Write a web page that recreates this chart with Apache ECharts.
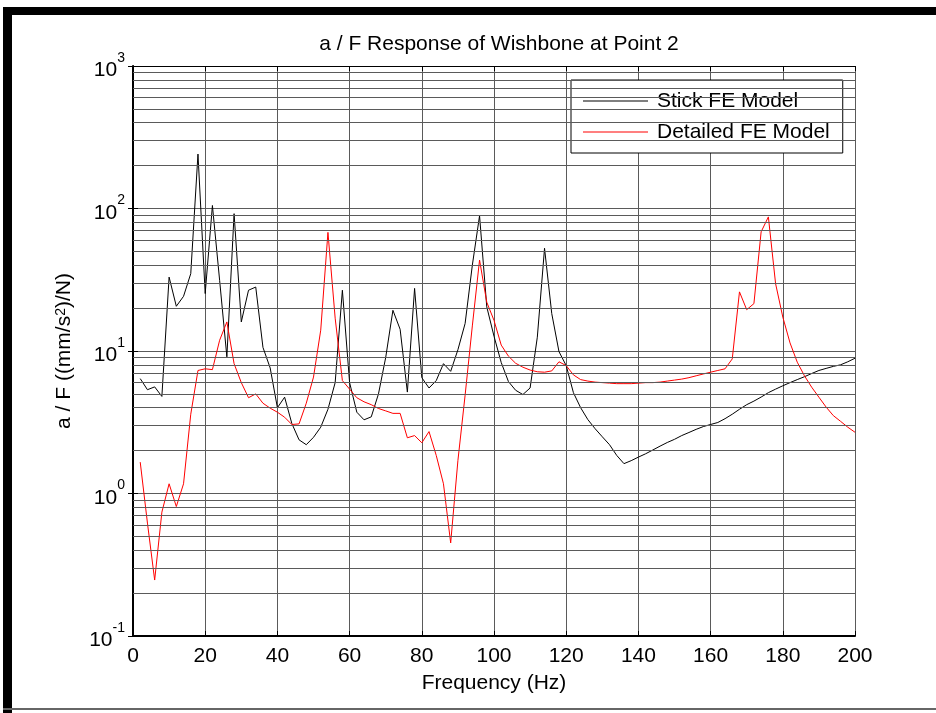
<!DOCTYPE html>
<html>
<head>
<meta charset="utf-8">
<title>a / F Response of Wishbone at Point 2</title>
<script src="https://cdn.jsdelivr.net/npm/echarts@6/dist/echarts.min.js"></script>
<style>
    html, body { margin: 0; padding: 0; background: #fff; }
    #chart { width: 936px; height: 713px; }
</style>
</head>
<body>
<div id="chart"></div>
<script>
// frequency samples (Hz)
var freqHz = [2, 4, 6, 8, 10, 12, 14, 16, 18, 20, 22, 24, 26, 28, 30, 32, 34, 36, 38, 40,
    42, 44, 46, 48, 50, 52, 54, 56, 58, 60, 62, 64, 66, 68, 70, 72, 74, 76, 78, 80,
    82, 84, 86, 88, 90, 92, 94, 96, 98, 100, 102, 104, 106, 108, 110, 112, 114, 116, 118, 120,
    122, 124, 126, 128, 130, 132, 134, 136, 138, 140, 142, 144, 146, 148, 150, 152, 154, 156, 158, 160,
    162, 164, 166, 168, 170, 172, 174, 176, 178, 180, 182, 184, 186, 188, 190, 192, 194, 196, 198, 200];

// Stick FE Model, a/F ((mm/s^2)/N)
var stickModel = [6.4, 5.35, 5.6, 4.8, 33, 20.6, 24.2, 34.9, 241, 25.3,
    105, 31.3, 9.1, 92, 16, 26.7, 28.1, 10.6, 7.6, 4.0,
    4.74, 3.1, 2.38, 2.2, 2.48, 2.92, 3.9, 6.0, 26.7, 6.0,
    3.72, 3.29, 3.45, 5.0, 9.0, 19.3, 14.2, 5.15, 27.5, 6.5,
    5.5, 6.2, 8.15, 7.2, 10.2, 15.6, 40, 89, 20.4, 12.7,
    8.3, 6.1, 5.3, 4.95, 5.5, 12.5, 52.6, 18.3, 9.9, 7.9,
    5.1, 4.0, 3.3, 2.85, 2.5, 2.2, 1.85, 1.62, 1.7, 1.8,
    1.9, 2.02, 2.15, 2.28, 2.4, 2.55, 2.68, 2.82, 2.95, 3.05,
    3.15, 3.35, 3.6, 3.9, 4.2, 4.45, 4.75, 5.1, 5.4, 5.7,
    6.0, 6.3, 6.6, 6.95, 7.3, 7.55, 7.8, 8.0, 8.4, 8.9];

// Detailed FE Model
var detailedModel = [1.66, 0.62, 0.247, 0.74, 1.17, 0.81, 1.17, 3.6, 7.3, 7.5,
    7.4, 11.9, 16, 8.15, 6.0, 4.7, 5.0, 4.3, 3.97, 3.72,
    3.43, 3.05, 3.08, 4.3, 6.56, 14, 68, 17, 6.2, 5.4,
    4.7, 4.4, 4.2, 3.95, 3.8, 3.65, 3.65, 2.46, 2.55, 2.27,
    2.72, 1.85, 1.17, 0.45, 1.7, 4.9, 15, 43.5, 22, 16.4,
    11, 9.2, 8.2, 7.7, 7.35, 7.15, 7.1, 7.25, 8.4, 7.9,
    6.8, 6.3, 6.15, 6.05, 6.0, 5.95, 5.9, 5.9, 5.9, 5.95,
    6.0, 6.0, 6.05, 6.15, 6.25, 6.35, 6.5, 6.7, 6.9, 7.1,
    7.3, 7.5, 8.8, 26, 19.5, 21.5, 68.6, 87.3, 29.7, 17.3,
    11.4, 8.35, 6.7, 5.57, 4.74, 4.04, 3.52, 3.21, 2.92, 2.69];

var seriesNames = ['Stick FE Model', 'Detailed FE Model'];

// minor log grid lines 2..9 x 10^n
var minorGrid = [];
[0.1, 1, 10, 100].forEach(function (dec) {
    for (var m = 2; m <= 9; m++) {
        minorGrid.push(+(m * dec).toPrecision(3));
    }
});

function pairs(vals) {
    return freqHz.map(function (f, i) { return [f, vals[i]]; });
}

var font = 'Arial, "Liberation Sans", sans-serif';
var gridColor = '#5a5a5a';

var chart = echarts.init(document.getElementById('chart'));

var option = {
    animation: false,
    backgroundColor: '#fff',
    title: {
        text: 'a / F Response of Wishbone at Point 2',
        left: 494,
        textAlign: 'center',
        top: 29,
        textStyle: { fontFamily: font, fontSize: 21, fontWeight: 'normal', color: '#000' }
    },
    legend: {
        data: seriesNames,
        orient: 'vertical',
        left: 571,
        top: 80,
        padding: [10, 13, 10, 12],
        icon: 'rect',
        itemWidth: 65,
        itemHeight: 1,
        itemGap: 9,
        borderColor: '#000',
        borderWidth: 1,
        borderRadius: 0,
        backgroundColor: '#fff',
        textStyle: { fontFamily: font, fontSize: 21, color: '#000', lineHeight: 22, padding: [0, 0, 0, 4] }
    },
    grid: { left: 133, right: 81, top: 66, bottom: 77 },
    xAxis: [{
        type: 'value',
        position: 'bottom',
        min: 0,
        max: 200,
        interval: 20,
        name: 'Frequency (Hz)',
        nameLocation: 'middle',
        nameGap: 37,
        nameTextStyle: { fontFamily: font, fontSize: 21, color: '#000' },
        axisLine: { lineStyle: { color: '#000', width: 2 } },
        axisTick: { inside: true, length: 5, lineStyle: { color: '#000' } },
        axisLabel: { fontFamily: font, fontSize: 21, color: '#000', margin: 10 },
        splitLine: { show: true, lineStyle: { color: gridColor, width: 1 } }
    }, {
        type: 'value',
        position: 'top',
        min: 0,
        max: 200,
        interval: 20,
        axisLine: { lineStyle: { color: '#000', width: 1 } },
        axisTick: { inside: true, length: 5, lineStyle: { color: '#000' } },
        axisLabel: { show: false },
        splitLine: { show: false }
    }],
    yAxis: [{
        type: 'log',
        logBase: 10,
        min: 0.1,
        max: 1000,
        position: 'left',
        name: 'a / F ((mm/s{sup|2})/N)',
        nameLocation: 'middle',
        nameGap: 58,
        nameTextStyle: {
            fontFamily: font, fontSize: 21, color: '#000',
            rich: { sup: { fontFamily: font, fontSize: 14, color: '#000', verticalAlign: 'top', lineHeight: 12 } }
        },
        axisLine: { show: true, lineStyle: { color: '#000', width: 2 } },
        axisTick: { inside: true, length: 5, lineStyle: { color: '#000' } },
        axisLabel: {
            margin: 8,
            formatter: function (v) {
                var e = Math.round(Math.log10(v));
                return '{b|10}{s|' + e + '}';
            },
            rich: {
                b: { fontFamily: font, fontSize: 21, color: '#000', lineHeight: 30, verticalAlign: 'bottom' },
                s: { fontFamily: font, fontSize: 14, color: '#000', verticalAlign: 'top', lineHeight: 12 }
            }
        },
        splitLine: { show: true, lineStyle: { color: gridColor, width: 1 } }
    }, {
        type: 'log',
        logBase: 10,
        min: 0.1,
        max: 1000,
        position: 'right',
        axisLine: { show: true, lineStyle: { color: '#000', width: 1 } },
        axisTick: { inside: true, length: 5, lineStyle: { color: '#000' } },
        axisLabel: { show: false },
        splitLine: { show: false }
    }],
    series: [{
        // only carries the minor grid lines
        name: 'minor',
        type: 'line',
        z: 1,
        silent: true,
        symbol: 'none',
        lineStyle: { opacity: 0 },
        data: [[0, 1]],
        markLine: {
            silent: true,
            symbol: ['none', 'none'],
            label: { show: false },
            lineStyle: { color: gridColor, type: 'solid', width: 1 },
            data: minorGrid.map(function (v) { return { yAxis: v }; })
        }
    }, {
        name: seriesNames[0],
        type: 'line',
        z: 3,
        symbol: 'none',
        lineStyle: { color: '#000', width: 1 },
        itemStyle: { color: '#000' },
        data: pairs(stickModel)
    }, {
        name: seriesNames[1],
        type: 'line',
        z: 4,
        symbol: 'none',
        lineStyle: { color: '#ff0000', width: 1 },
        itemStyle: { color: '#ff0000' },
        data: pairs(detailedModel)
    }],
    graphic: [
        // figure frame
        { type: 'rect', shape: { x: 3, y: 7, width: 9, height: 706 }, style: { fill: '#000' } },
        { type: 'rect', shape: { x: 3, y: 7, width: 933, height: 8 }, style: { fill: '#000' } },
        { type: 'rect', shape: { x: 3, y: 708, width: 933, height: 2 }, style: { fill: '#666' } }
    ]
};

chart.setOption(option);
</script>
</body>
</html>
